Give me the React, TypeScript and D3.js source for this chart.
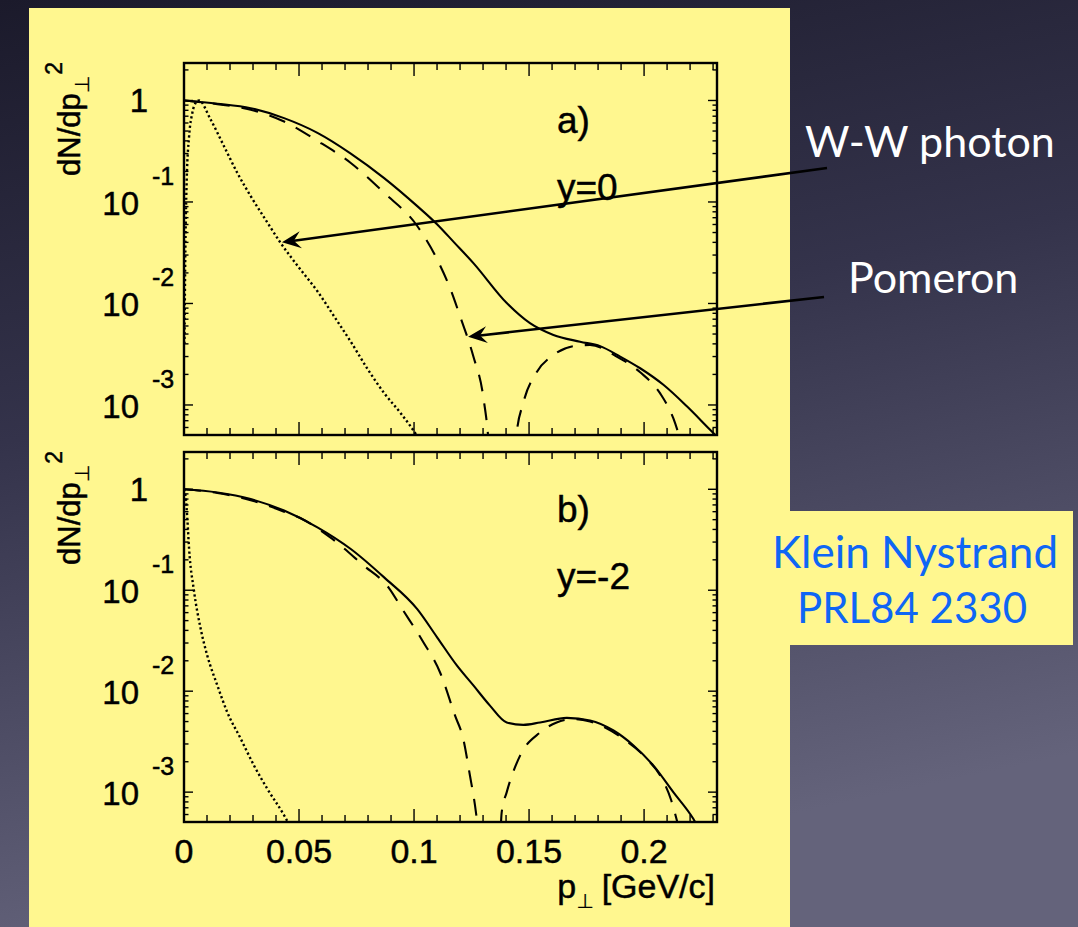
import * as d3 from 'd3';

// p_perp [GeV/c] and dN/dp_perp^2
// panel a) y=0
const topTotalPt = [0, 0.0145, 0.029, 0.0435, 0.058, 0.0725, 0.087, 0.1014, 0.1101, 0.1174, 0.1258, 0.1403, 0.1504, 0.1606, 0.1722, 0.1809, 0.1896, 0.1983, 0.2084, 0.2186, 0.2287, 0.232];
const topTotal = [1.0, 0.93, 0.84, 0.67, 0.48, 0.30, 0.172, 0.091, 0.060, 0.040, 0.025, 0.0101, 0.0064, 0.0049, 0.0042, 0.0038, 0.0030, 0.0023, 0.00158, 0.00097, 0.00057, 0.00048];

const topPomeronPt = [0, 0.0145, 0.029, 0.0435, 0.058, 0.0725, 0.087, 0.1014, 0.1101, 0.1159, 0.12, 0.1258, 0.1301, 0.1325, 0.134, 0.1425, 0.1445, 0.1475, 0.1533, 0.1606, 0.1693, 0.1765, 0.1881, 0.1983, 0.207, 0.2127, 0.2165];
const topPomeron = [1.0, 0.92, 0.81, 0.62, 0.40, 0.242, 0.123, 0.058, 0.027, 0.0137, 0.0075, 0.0030, 0.0012, 0.0004, 0.0001, 0.0001, 0.0005, 0.00105, 0.0021, 0.0031, 0.0038, 0.0039, 0.0030, 0.0021, 0.0013, 0.00074, 0.0004];

const topPhotonPt = [0.0002, 0.0006, 0.0012, 0.0022, 0.0036, 0.0051, 0.0065, 0.0116, 0.0174, 0.0232, 0.029, 0.0362, 0.042, 0.0507, 0.058, 0.0652, 0.0725, 0.0797, 0.087, 0.0942, 0.1, 0.1025];
const topPhoton = [0.004, 0.035, 0.17, 0.44, 0.75, 0.95, 1.0, 0.647, 0.354, 0.193, 0.114, 0.063, 0.0395, 0.0215, 0.0132, 0.0075, 0.0042, 0.00228, 0.00131, 0.00083, 0.00055, 0.00045];

// panel b) y=-2
const botTotalPt = [0, 0.0145, 0.029, 0.0435, 0.058, 0.0725, 0.087, 0.1014, 0.1101, 0.1186, 0.1258, 0.133, 0.1403, 0.1475, 0.1548, 0.1664, 0.1765, 0.1867, 0.1954, 0.204, 0.2127, 0.2214, 0.2235];
const botTotal = [1.0, 0.93, 0.80, 0.615, 0.42, 0.256, 0.134, 0.065, 0.034, 0.018, 0.0114, 0.0072, 0.0049, 0.00464, 0.0049, 0.00544, 0.00513, 0.00408, 0.0029, 0.00184, 0.001, 0.000544, 0.00045];

const botPomeronPt = [0, 0.0145, 0.029, 0.0435, 0.0507, 0.0645, 0.0778, 0.0891, 0.0949, 0.1036, 0.1116, 0.1178, 0.1214, 0.1243, 0.1265, 0.128, 0.131, 0.1365, 0.1381, 0.1403, 0.1461, 0.1548, 0.162, 0.1693, 0.1765, 0.191, 0.2012, 0.207, 0.2118, 0.2145];
const botPomeron = [1.0, 0.92, 0.78, 0.60, 0.516, 0.322, 0.178, 0.105, 0.065, 0.0318, 0.0148, 0.00575, 0.00337, 0.00146, 0.00074, 0.0004, 0.0001, 0.0001, 0.00063, 0.001, 0.0023, 0.0039, 0.0049, 0.0053, 0.0050, 0.00337, 0.00214, 0.00146, 0.00083, 0.0005];

const botPhotonPt = [0, 0.0007, 0.00145, 0.0022, 0.0043, 0.0072, 0.0101, 0.0145, 0.0188, 0.0246, 0.0304, 0.0362, 0.0435, 0.047];
const botPhoton = [1.0, 0.85, 0.51, 0.26, 0.10, 0.042, 0.0226, 0.0114, 0.0062, 0.0034, 0.00184, 0.00108, 0.00059, 0.00042];

const xTickLabels = ['0', '0.05', '0.1', '0.15', '0.2'];
const yDecades = [0, -1, -2, -3];

const W = 1078;
const H = 927;
const FONT = '"Liberation Sans", Arial, Helvetica, sans-serif';
const SLIDE_FONT = 'Lato, "Open Sans", sans-serif';

const x = d3.scaleLinear().domain([0, 0.2317]).range([184, 717]);
const yDomain: [number, number] = [5.06e-4, 2.34];

type Series = { pt: number[]; v: number[]; dash?: string };

function Panel({ top, bottom, series, label, rapidity, showX, id }: {
  top: number; bottom: number; series: Series[]; label: string; rapidity: string; showX: boolean; id: string;
}) {
  const y = d3.scaleLog().domain(yDomain).range([bottom, top]);
  const [x0, x1] = x.range();
  const line = d3.line<[number, number]>()
    .x(d => x(d[0]))
    .y(d => y(d[1]))
    .curve(d3.curveMonotoneX);

  const xt = d3.range(0, 24).map(i => ({ v: i * 0.01, major: i % 5 === 0 }));
  const yt: { v: number; major: boolean }[] = [];
  for (let e = -4; e <= 0; e++) {
    for (let m = 1; m <= 9; m++) {
      const v = m * Math.pow(10, e);
      if (v >= yDomain[0] && v <= yDomain[1]) yt.push({ v, major: m === 1 });
    }
  }

  return (
    <g>
      <defs>
        <clipPath id={id}>
          <rect x={x0} y={top} width={x1 - x0} height={bottom - top} />
        </clipPath>
      </defs>
      {/* ticks, all pointing inward */}
      <g stroke="#000" strokeWidth={1.4}>
        {xt.map((t, i) => {
          const px = x(t.v);
          if (px > x1 - 1) return null;
          const len = t.major ? 13 : 7;
          return (
            <g key={'x' + i}>
              <line x1={px} x2={px} y1={bottom} y2={bottom - len} />
              <line x1={px} x2={px} y1={top} y2={top + len} />
            </g>
          );
        })}
        {yt.map((t, i) => {
          const py = y(t.v);
          const len = t.major ? 9 : 4.5;
          return (
            <g key={'y' + i}>
              <line x1={x0} x2={x0 + len} y1={py} y2={py} />
              <line x1={x1} x2={x1 - len} y1={py} y2={py} />
            </g>
          );
        })}
      </g>
      <g clipPath={`url(#${id})`} fill="none" stroke="#000">
        {series.map((s, i) => (
          <path
            key={i}
            d={line(s.pt.map((p, j) => [p, s.v[j]] as [number, number])) || ''}
            strokeWidth={s.dash === 'dot' ? 2.4 : 2.1}
            strokeDasharray={s.dash === 'dot' ? '2.2 2.6' : s.dash}
          />
        ))}
      </g>
      <rect x={x0} y={top} width={x1 - x0} height={bottom - top} fill="none" stroke="#000" strokeWidth={2.4} />
      {/* tick labels and panel texts */}
      <g fontFamily={FONT} fill="#000" stroke="#000" strokeWidth={0.45}>
        {yDecades.map(e => {
          const py = y(Math.pow(10, e));
          if (e === 0) {
            return <text key={e} x={148} y={py + 12} fontSize={33} textAnchor="end">1</text>;
          }
          return (
            <g key={e}>
              <text x={139} y={py + 13} fontSize={33} textAnchor="end">10</text>
              <text x={152} y={py - 17} fontSize={25}>{`-${-e}`}</text>
            </g>
          );
        })}
        {showX && xTickLabels.map(l => (
          <text key={l} x={x(+l)} y={863} fontSize={34} textAnchor="middle">{l}</text>
        ))}
        <text x={557} y={top + 70} fontSize={37}>{label}</text>
        <text x={557} y={top + 137} fontSize={37}>{rapidity}</text>
        <text transform={`translate(80,${top + 113}) rotate(-90)`} fontSize={31}>
          dN/dp
          <tspan dy={9} fontSize={20} fontFamily="DejaVu Sans" strokeWidth={0.2}>⊥</tspan>
          <tspan dy={-27} dx={1} fontSize={23}>2</tspan>
        </text>
      </g>
    </g>
  );
}

function Arrow({ from, to }: { from: [number, number]; to: [number, number] }) {
  const ang = Math.atan2(to[1] - from[1], to[0] - from[0]);
  const L = 19;
  const hw = 8.5;
  const ca = Math.cos(ang);
  const sa = Math.sin(ang);
  const bx = to[0] - L * ca;
  const by = to[1] - L * sa;
  const nx = to[0] - 12 * ca;
  const ny = to[1] - 12 * sa;
  const head = `M${to[0]},${to[1]} L${bx - hw * sa},${by + hw * ca} L${nx},${ny} L${bx + hw * sa},${by - hw * ca} Z`;
  return (
    <g>
      <line x1={from[0]} y1={from[1]} x2={nx} y2={ny} stroke="#000" strokeWidth={2.6} />
      <path d={head} fill="#000" />
    </g>
  );
}

export default function App() {
  const topSeries: Series[] = [
    { pt: topTotalPt, v: topTotal },
    { pt: topPomeronPt, v: topPomeron, dash: '17 12' },
    { pt: topPhotonPt, v: topPhoton, dash: 'dot' },
  ];
  const botSeries: Series[] = [
    { pt: botTotalPt, v: botTotal },
    { pt: botPomeronPt, v: botPomeron, dash: '17 12' },
    { pt: botPhotonPt, v: botPhoton, dash: 'dot' },
  ];
  // arrow tips sit on the curves they point at
  const yA = d3.scaleLog().domain(yDomain).range([435, 63]);
  const wwTip: [number, number] = [x(0.0426), yA(0.040)];
  const pomTip: [number, number] = [x(0.1235), yA(0.0047)];

  return (
    <svg width={W} height={H} style={{ position: 'absolute', left: 0, top: 0 }}>
      <defs>
        <linearGradient id="bg" x1="0" y1="0" x2="0.25" y2="1">
          <stop offset="0" stopColor="#1b1a2b" />
          <stop offset="0.45" stopColor="#34334b" />
          <stop offset="1" stopColor="#64637b" />
        </linearGradient>
      </defs>
      <rect width={W} height={H} fill="url(#bg)" />
      <rect x={29} y={8} width={761} height={H} fill="#fff78f" />
      <rect x={790} y={511} width={283} height={134} fill="#fff78f" />

      <Panel top={63} bottom={435} series={topSeries} label="a)" rapidity="y=0" showX={false} id="clipA" />
      <Panel top={452} bottom={822} series={botSeries} label="b)" rapidity="y=-2" showX={true} id="clipB" />

      <text x={715} y={898} fontFamily={FONT} fontSize={34} textAnchor="end" stroke="#000" strokeWidth={0.45}>
        p
        <tspan dy={10} fontSize={20} fontFamily="DejaVu Sans" strokeWidth={0.2}>⊥</tspan>
        <tspan dy={-10} dx={8}>[GeV/c]</tspan>
      </text>

      <Arrow from={[827, 168]} to={wwTip} />
      <Arrow from={[824, 297]} to={pomTip} />

      <g fontFamily={SLIDE_FONT}>
        <text x={805} y={157} fontSize={43} fill="#fff">W-W photon</text>
        <text x={848} y={293} fontSize={43} fill="#fff">Pomeron</text>
        <text x={915} y={568} fontSize={44} fill="#0f66f5" textAnchor="middle">Klein Nystrand</text>
        <text x={912} y={623} fontSize={42} fill="#0f66f5" textAnchor="middle">PRL84 2330</text>
      </g>
    </svg>
  );
}
